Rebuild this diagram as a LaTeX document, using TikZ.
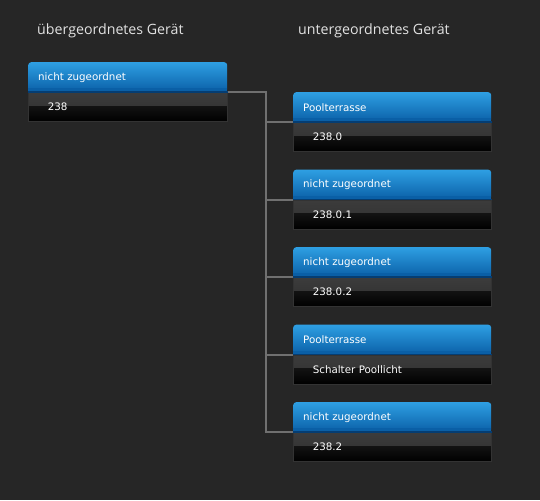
\documentclass[tikz,border=0pt]{standalone}
\usepackage{fontspec}
\setmainfont{DejaVu Sans}
\newfontfamily\titlefont{Open Sans}
\definecolor{bg}{HTML}{262626}
\definecolor{hdrtop}{HTML}{2E9FE3}
\definecolor{hdrbot}{HTML}{0A5FA6}
\definecolor{hdrline}{HTML}{053D72}
\definecolor{bodytop}{HTML}{3C3C3C}
\definecolor{bodymid}{HTML}{2E2E2E}
\definecolor{bodylow}{HTML}{121212}
\definecolor{bodyedge}{HTML}{333333}
\definecolor{conncol}{HTML}{707070}
\definecolor{titlecol}{HTML}{E2E2E2}
\begin{document}
\begin{tikzpicture}[x=1pt,y=1pt,
  title/.style={anchor=base west, inner sep=0pt, text=titlecol, font=\titlefont\fontsize{14.2pt}{16pt}\selectfont},
  hdr/.style n args={2}{rectangle, rounded corners=3pt, top color=hdrtop, bottom color=hdrbot,
    anchor=north west, minimum height=30pt, inner ysep=0pt, inner xsep=10pt,
    minimum width=#1, text width=#2, align=left, text=white,
    font=\fontsize{10.3pt}{12pt}\selectfont},
  bdy/.style n args={2}{rectangle, anchor=north west, minimum height=29pt, inner ysep=0pt, inner xsep=19.5pt,
    minimum width=#1, text width=#2, align=left, text=white, draw=bodyedge, line width=0.6pt,
    font=\fontsize{10.3pt}{12pt}\selectfont,
    path picture={
      \shade[top color=bodytop, bottom color=bodymid]
        (path picture bounding box.north west) rectangle ([yshift=-14pt]path picture bounding box.north east);
      \shade[top color=bodylow, bottom color=black]
        ([yshift=-14pt]path picture bounding box.north west) rectangle (path picture bounding box.south east);
    }},
  conn/.style={draw=conncol, line width=2pt}
]
\fill[bg] (0,0) rectangle (540,-500);
\useasboundingbox (0,0) rectangle (540,-500);

\node[title] (t1) at (37,-35) {übergeordnetes Gerät};
\node[title] (t2) at (298,-35) {untergeordnetes Gerät};

% parent
\node[hdr={199pt}{179pt}] (p-h) at (28,-62) {nicht zugeordnet};
\fill[hdrbot] ([yshift=4pt]p-h.south west) rectangle (p-h.south east);
\node[bdy={199pt}{160pt}] (p-b) at (28,-92) {238};
\draw[hdrline, line width=1.2pt] (p-b.north west) -- (p-b.north east);

% children
\foreach \i/\y/\h/\b in {1/92/Poolterrasse/238.0, 2/169.5/nicht zugeordnet/238.0.1, 3/247/nicht zugeordnet/238.0.2, 4/324.5/Poolterrasse/Schalter Poollicht, 5/402/nicht zugeordnet/238.2}{
  \node[hdr={198pt}{178pt}] (c\i-h) at (293,-\y) {\h};
  \fill[hdrbot] ([yshift=4pt]c\i-h.south west) rectangle (c\i-h.south east);
  \node[bdy={198pt}{159pt}] (c\i-b) at (293,-\y-30) {\b};
  \draw[hdrline, line width=1.2pt] (c\i-b.north west) -- (c\i-b.north east);
}

% connectors
\coordinate (trunk) at (266,-92);
\draw[conn] (p-b.north east) -- (trunk) |- (c5-b.north west);
\foreach \i in {1,...,4}{
  \draw[conn] (trunk |- c\i-b.north west) -- (c\i-b.north west);
}
\end{tikzpicture}
\end{document}
